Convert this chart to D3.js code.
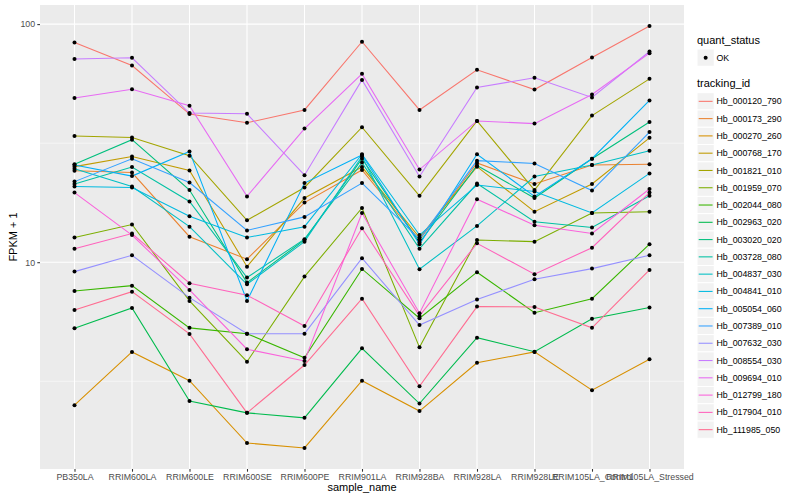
<!DOCTYPE html>
<html><head><meta charset="utf-8">
<script src="https://cdn.jsdelivr.net/npm/d3@7"></script>
<style>
body{margin:0;background:#fff}
svg{display:block}
text{font-family:"Liberation Sans",Arial,Helvetica,sans-serif}
</style>
</head><body>
<svg id="chart" width="800" height="500"></svg>
<script>
// ---------- data ----------
const sampleNames = ["PB350LA","RRIM600LA","RRIM600LE","RRIM600SE","RRIM600PE","RRIM901LA","RRIM928BA","RRIM928LA","RRIM928LE","RRIM105LA_Control","RRIM105LA_Stressed"];
const trackingIds = ["Hb_000120_790","Hb_000173_290","Hb_000270_260","Hb_000768_170","Hb_001821_010","Hb_001959_070","Hb_002044_080","Hb_002963_020","Hb_003020_020","Hb_003728_080","Hb_004837_030","Hb_004841_010","Hb_005054_060","Hb_007389_010","Hb_007632_030","Hb_008554_030","Hb_009694_010","Hb_012799_180","Hb_017904_010","Hb_111985_050"];
const quantStatus = ["OK"];

// FPKM + 1 per tracking_id, in sampleNames order
const Hb_000120_790 = [83.7, 67.0, 41.9, 38.5, 43.6, 84.3, 43.6, 64.3, 53.1, 72.4, 98.1];
const Hb_000173_290 = [24.2, 23.8, 12.8, 10.3, 17.8, 24.4, 12.4, 26.1, 21.3, 25.6, 25.8];
const Hb_000270_260 = [2.51, 4.20, 3.18, 1.74, 1.66, 3.18, 2.37, 3.78, 4.20, 2.90, 3.91];
const Hb_000768_170 = [25.2, 27.8, 24.3, 9.58, 18.6, 25.1, 12.7, 25.2, 16.3, 21.3, 33.3];
const Hb_001821_010 = [33.9, 33.4, 28.0, 15.0, 20.6, 36.9, 19.0, 39.2, 20.1, 41.3, 58.9];
const Hb_001959_070 = [12.7, 14.4, 6.88, 3.82, 8.70, 16.9, 4.39, 12.4, 12.2, 16.1, 16.3];
const Hb_002044_080 = [7.57, 7.97, 5.30, 5.01, 3.97, 9.37, 5.82, 9.08, 6.14, 7.03, 11.9];
const Hb_002963_020 = [5.28, 6.43, 2.61, 2.33, 2.22, 4.35, 2.55, 4.82, 4.21, 5.79, 6.45];
const Hb_003020_020 = [25.8, 32.7, 20.1, 8.21, 12.4, 27.2, 12.1, 25.5, 18.6, 27.2, 38.8];
const Hb_003728_080 = [21.3, 25.1, 18.0, 8.62, 12.5, 26.2, 11.4, 21.4, 14.8, 14.0, 19.0];
const Hb_004837_030 = [24.7, 20.8, 14.1, 8.08, 12.2, 27.8, 9.35, 14.2, 22.9, 25.6, 29.4];
const Hb_004841_010 = [20.8, 20.6, 15.6, 12.7, 14.1, 28.4, 13.0, 21.1, 19.8, 16.1, 23.6];
const Hb_005054_060 = [25.6, 23.0, 29.2, 6.88, 21.5, 28.2, 11.9, 28.4, 18.9, 27.2, 47.8];
const Hb_007389_010 = [21.8, 27.2, 21.6, 13.6, 15.5, 21.5, 12.5, 26.7, 26.0, 20.0, 35.2];
const Hb_007632_030 = [9.13, 10.7, 7.10, 5.01, 5.01, 10.4, 5.45, 6.97, 8.48, 9.40, 10.7];
const Hb_008554_030 = [71.3, 72.2, 42.3, 42.0, 23.2, 58.3, 22.9, 54.2, 59.5, 49.2, 76.7];
const Hb_009694_010 = [48.9, 53.3, 45.4, 18.9, 36.4, 61.8, 24.5, 39.2, 38.2, 50.6, 75.5];
const Hb_012799_180 = [19.6, 13.0, 7.65, 4.31, 3.85, 16.1, 6.11, 18.4, 14.3, 13.2, 20.3];
const Hb_017904_010 = [11.4, 13.2, 8.16, 7.27, 5.40, 13.9, 5.95, 12.0, 8.91, 11.5, 19.6];
const Hb_111985_050 = [6.30, 7.52, 5.00, 2.33, 3.70, 7.03, 3.01, 6.51, 6.49, 5.30, 9.28];

const yTickValues = [10, 100];

// ---------- styling ----------
const palette = ["#F8766D","#EA8331","#D89000","#C09B00","#A3A500","#7CAE00","#39B600","#00BB4E","#00BF7D","#00C1A3","#00BFC4","#00BAE0","#00B0F6","#35A2FF","#9590FF","#C77CFF","#E76BF3","#FA62DB","#FF62BC","#FF6C91"];

const seriesValues = [Hb_000120_790,Hb_000173_290,Hb_000270_260,Hb_000768_170,Hb_001821_010,Hb_001959_070,Hb_002044_080,Hb_002963_020,Hb_003020_020,Hb_003728_080,Hb_004837_030,Hb_004841_010,Hb_005054_060,Hb_007389_010,Hb_007632_030,Hb_008554_030,Hb_009694_010,Hb_012799_180,Hb_017904_010,Hb_111985_050];
const series = trackingIds.map((id, i) => ({id, color: palette[i], values: seriesValues[i]}));

const svg = d3.select("#chart");
const panel = {left: 40, right: 684, top: 5, bottom: 469};

const x = d3.scalePoint().domain(sampleNames).range([panel.left, panel.right]).padding(0.6);

const allVals = seriesValues.flat();
const lo = Math.log10(d3.min(allVals)), hi = Math.log10(d3.max(allVals));
const pad = (hi - lo) * 0.05;
const y = d3.scaleLog().domain([Math.pow(10, lo - pad), Math.pow(10, hi + pad)]).range([panel.bottom, panel.top]);

// panel
svg.append("rect").attr("x", panel.left).attr("y", panel.top)
  .attr("width", panel.right - panel.left).attr("height", panel.bottom - panel.top)
  .attr("fill", "#EBEBEB");

// minor grid (log midpoints)
const minorTicks = [];
for (let k = Math.floor(Math.log10(y.domain()[0])) - 1; k <= Math.ceil(Math.log10(y.domain()[1])); k++) {
  const v = Math.pow(10, k + 0.5);
  if (v > y.domain()[0] && v < y.domain()[1]) minorTicks.push(v);
}
svg.append("g").selectAll("line").data(minorTicks).join("line")
  .attr("x1", panel.left).attr("x2", panel.right)
  .attr("y1", d => y(d)).attr("y2", d => y(d))
  .attr("stroke", "#fff").attr("stroke-width", 0.53);
svg.append("g").selectAll("line").data(yTickValues).join("line")
  .attr("x1", panel.left).attr("x2", panel.right)
  .attr("y1", d => y(d)).attr("y2", d => y(d))
  .attr("stroke", "#fff").attr("stroke-width", 1.07);
svg.append("g").selectAll("line").data(sampleNames).join("line")
  .attr("y1", panel.top).attr("y2", panel.bottom)
  .attr("x1", d => x(d)).attr("x2", d => x(d))
  .attr("stroke", "#fff").attr("stroke-width", 1.07);

// lines
const line = d3.line().x((d, i) => x(sampleNames[i])).y(d => y(d));
svg.append("g").selectAll("path").data(series).join("path")
  .attr("d", d => line(d.values))
  .attr("fill", "none").attr("stroke", d => d.color).attr("stroke-width", 1.07);

// points
const pts = svg.append("g");
series.forEach(s => {
  pts.selectAll(null).data(s.values).join("circle")
    .attr("cx", (d, i) => x(sampleNames[i])).attr("cy", d => y(d))
    .attr("r", 2).attr("fill", "#000");
});

// axes
const yAxis = d3.axisLeft(y).tickValues(yTickValues).tickFormat(d3.format("d")).tickSize(2.7).tickPadding(2.2);
const gy = svg.append("g").attr("transform", `translate(${panel.left},0)`).call(yAxis);
const xAxis = d3.axisBottom(x).tickSize(2.7).tickPadding(2.2);
const gx = svg.append("g").attr("transform", `translate(0,${panel.bottom})`).call(xAxis);
[gx, gy].forEach(g => {
  g.select(".domain").remove();
  g.selectAll(".tick line").attr("stroke", "#333333").attr("stroke-width", 1.07);
  g.selectAll(".tick text").attr("fill", "#4D4D4D").style("font-size", "8.8px").style("font-family", '"Liberation Sans",Arial,sans-serif');
});

// axis titles
svg.append("text").attr("x", (panel.left + panel.right) / 2).attr("y", 491)
  .attr("text-anchor", "middle").style("font-size", "11px").attr("fill", "#000").text("sample_name");
svg.append("text").attr("transform", `translate(16.5,${(panel.top + panel.bottom) / 2}) rotate(-90)`)
  .attr("text-anchor", "middle").style("font-size", "11px").attr("fill", "#000").text("FPKM + 1");

// legend
const lg = svg.append("g").attr("transform", "translate(697,0)");
const keyH = 17.28;
lg.append("text").attr("x", 0).attr("y", 43.5).style("font-size", "11px").text("quant_status");
lg.selectAll(".qk").data(quantStatus).join("g").attr("class", "qk")
  .attr("transform", (d, i) => `translate(0,${49 + i * keyH})`)
  .each(function(d) {
    const g = d3.select(this);
    g.append("rect").attr("width", keyH).attr("height", keyH).attr("fill", "#F2F2F2").attr("stroke", "#fff").attr("stroke-width", 1);
    g.append("circle").attr("cx", keyH / 2).attr("cy", keyH / 2).attr("r", 2).attr("fill", "#000");
    g.append("text").attr("x", 19.5).attr("y", keyH / 2).attr("dy", "0.35em").style("font-size", "8.8px").text(d);
  });
lg.append("text").attr("x", 0).attr("y", 87).style("font-size", "11px").text("tracking_id");
lg.selectAll(".tk").data(series).join("g").attr("class", "tk")
  .attr("transform", (d, i) => `translate(0,${92.7 + i * keyH})`)
  .each(function(d) {
    const g = d3.select(this);
    g.append("rect").attr("width", keyH).attr("height", keyH).attr("fill", "#F2F2F2").attr("stroke", "#fff").attr("stroke-width", 1);
    g.append("line").attr("x1", 1.7).attr("x2", keyH - 1.7).attr("y1", keyH / 2).attr("y2", keyH / 2)
      .attr("stroke", d.color).attr("stroke-width", 1.07);
    g.append("text").attr("x", 19.5).attr("y", keyH / 2).attr("dy", "0.35em").style("font-size", "8.8px").text(d.id);
  });
</script>
</body></html>
